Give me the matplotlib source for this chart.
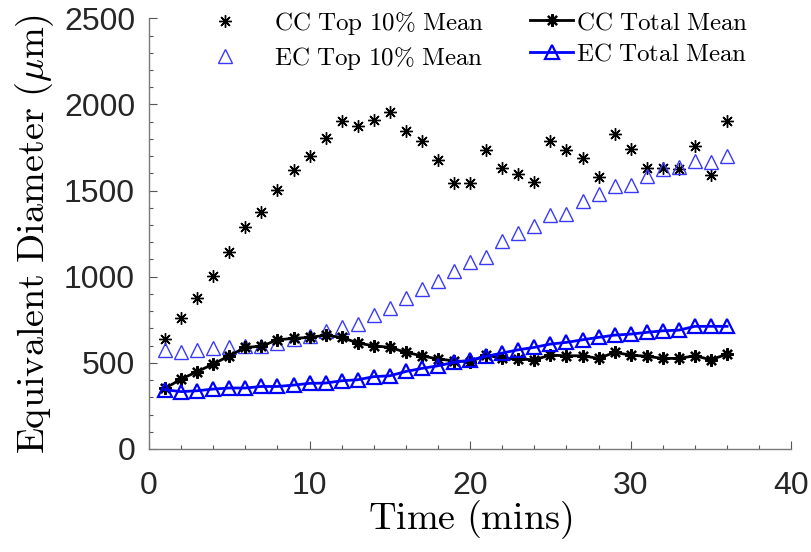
import matplotlib
matplotlib.use("Agg")
import matplotlib.pyplot as plt
from matplotlib.ticker import MultipleLocator

time = list(range(1, 37))

cc_top = [638, 760, 874, 1002, 1141, 1290, 1377, 1502, 1618, 1701, 1808, 1905,
          1872, 1910, 1957, 1843, 1785, 1679, 1543, 1543, 1736, 1630, 1595, 1547,
          1790, 1736, 1688, 1576, 1827, 1744, 1632, 1632, 1628, 1759, 1591, 1901]

ec_top = [576, 561, 576, 586, 590, 599, 595, 615, 638, 657, 683, 706,
          725, 777, 816, 876, 928, 973, 1031, 1087, 1112, 1205, 1253, 1292,
          1357, 1365, 1440, 1483, 1527, 1531, 1585, 1628, 1637, 1672, 1663, 1698]

cc_total = [352, 406, 449, 493, 541, 590, 596, 634, 642, 648, 660, 648,
            615, 599, 590, 561, 541, 522, 512, 506, 545, 526, 522, 518,
            545, 541, 541, 526, 561, 545, 538, 526, 526, 541, 518, 551]

ec_total = [344, 333, 338, 348, 354, 354, 363, 363, 371, 381, 383, 396,
            402, 420, 425, 450, 468, 483, 503, 516, 538, 557, 576, 590,
            609, 619, 634, 648, 661, 667, 677, 686, 690, 712, 712, 712]

labels = [r'$\mathrm{CC\ Top\ 10\%\ Mean}$', r'$\mathrm{EC\ Top\ 10\%\ Mean}$',
          r'$\mathrm{CC\ Total\ Mean}$', r'$\mathrm{EC\ Total\ Mean}$']

plt.rcParams['mathtext.fontset'] = 'cm'

W, H = 812, 552
fig = plt.figure(figsize=(W / 100, H / 100), dpi=100)
ax = fig.add_axes([149 / W, 103 / H, (791.3 - 149) / W, (449 - 18.3) / H])

ast = (8, 2, 0)
h1, = ax.plot(time, cc_top, linestyle='none', marker=ast, markersize=9,
              markeredgewidth=1.0, color='black')
h2, = ax.plot(time, ec_top, linestyle='none', marker='^', markersize=10,
              markerfacecolor='none', markeredgecolor='#3a3aff', markeredgewidth=1.0)
h3, = ax.plot(time, cc_total, linestyle='-', linewidth=2, marker=ast, markersize=9,
              markeredgewidth=1.6, color='black')
h4, = ax.plot(time, ec_total, linestyle='-', linewidth=2, marker='^', markersize=10,
              markerfacecolor='none', markeredgecolor='#0000ff', color='#0000ff',
              markeredgewidth=1.6)

ax.set_xlim(0, 40)
ax.set_ylim(0, 2500)
ax.xaxis.set_major_locator(MultipleLocator(10))
ax.xaxis.set_minor_locator(MultipleLocator(2))
ax.yaxis.set_major_locator(MultipleLocator(500))
ax.yaxis.set_minor_locator(MultipleLocator(100))

for s in ['top', 'right']:
    ax.spines[s].set_visible(False)
for s in ['left', 'bottom']:
    ax.spines[s].set_color('#7a7a7a')
    ax.spines[s].set_linewidth(1.0)

ax.tick_params(which='both', direction='in', color='#555555', width=0.8)
ax.tick_params(which='major', length=6)
ax.tick_params(which='minor', length=3)
ax.tick_params(axis='x', which='major', pad=16)
ax.tick_params(axis='y', which='major', pad=10)
for lab in ax.get_xticklabels() + ax.get_yticklabels():
    lab.set_fontfamily('Liberation Sans')
    lab.set_fontsize(23)
    lab.set_color('#262626')

ax.set_xlabel(r'$\mathrm{Time\ (mins)}$', fontsize=27.5, labelpad=-2)
ax.set_ylabel(r'$\mathrm{Equivalent\ Diameter\ (\mu m)}$', fontsize=27.5, labelpad=6)

fs = 18
leg1 = fig.legend([h1, h2], labels[:2], frameon=False, fontsize=fs,
                  loc='upper left', bbox_to_anchor=(204 / W, 1 - 10 / H),
                  borderaxespad=0, borderpad=0,
                  handlelength=1.7, handletextpad=1.1, labelspacing=0.3)
leg2 = fig.legend([h3, h4], labels[2:], frameon=False, fontsize=fs,
                  loc='upper left', bbox_to_anchor=(530 / W, 1 - 10 / H),
                  borderaxespad=0, borderpad=0,
                  handlelength=1.72, handletextpad=0.1, labelspacing=0.3)

fig.savefig('out.png', dpi=100, facecolor='white')
